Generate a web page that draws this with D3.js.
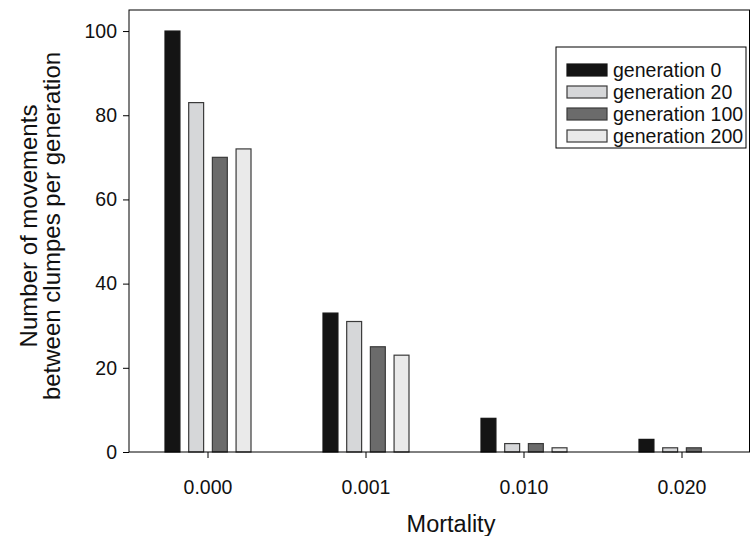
<!DOCTYPE html>
<html>
<head>
<meta charset="utf-8">
<script src="https://cdn.jsdelivr.net/npm/d3@7"></script>
<style>
  body { margin: 0; background: #fff; }
  svg { display: block; font-family: "Liberation Sans", Arial, sans-serif; }
</style>
</head>
<body>
<div id="chart"></div>
<script>
var categories = ["0.000", "0.001", "0.010", "0.020"];
var seriesNames = ["generation 0", "generation 20", "generation 100", "generation 200"];
var gen0 = [100, 33, 8, 3];
var gen20 = [83, 31, 2, 1];
var gen100 = [70, 25, 2, 1];
var gen200 = [72, 23, 1, 0];
var yTicks = [0, 20, 40, 60, 80, 100];

var seriesValues = [gen0, gen20, gen100, gen200];
var fills = ["#141414", "#d6d7d9", "#6b6b6b", "#eaeaea"];
var strokes = ["#141414", "#3a3a3a", "#3a3a3a", "#3a3a3a"];

var width = 751, height = 536;
var margin = { top: 10, right: 1, bottom: 84, left: 129 };
var plotW = width - margin.left - margin.right;
var plotH = height - margin.top - margin.bottom;

var svg = d3.select("#chart").append("svg")
  .attr("width", width)
  .attr("height", height);

var g = svg.append("g")
  .attr("transform", "translate(" + margin.left + "," + margin.top + ")");

// the band scale runs a bit past the right edge, as in the original
var x = d3.scaleBand().domain(categories).range([0, 632]).padding(0);
var inner = d3.scaleBand().domain(d3.range(4)).range([-43, 43]).paddingInner(0.37).paddingOuter(0);
var y = d3.scaleLinear().domain([0, 105]).range([plotH, 0]);

// bars
seriesValues.forEach(function (vals, s) {
  var data = vals.map(function (v, i) { return { cat: categories[i], value: v }; })
    .filter(function (d) { return d.value > 0; });
  g.selectAll(".bar" + s)
    .data(data)
    .enter()
    .append("rect")
    .attr("class", "bar" + s)
    .attr("x", function (d) { return x(d.cat) + x.bandwidth() / 2 + inner(s); })
    .attr("y", function (d) { return y(d.value); })
    .attr("width", inner.bandwidth())
    .attr("height", function (d) { return y(0) - y(d.value); })
    .attr("fill", fills[s])
    .attr("stroke", strokes[s])
    .attr("stroke-width", 1.2);
});

// frame
g.append("rect")
  .attr("x", 0).attr("y", 0)
  .attr("width", plotW - 0.5).attr("height", plotH)
  .attr("fill", "none")
  .attr("stroke", "#000")
  .attr("stroke-width", 1);

// axes
var yAxis = g.append("g")
  .call(d3.axisLeft(y).tickValues(yTicks).tickSize(6).tickPadding(6));
yAxis.select(".domain").remove();
yAxis.selectAll("text").style("font-size", "19.5px").attr("fill", "#111");

var xAxis = g.append("g")
  .attr("transform", "translate(0," + plotH + ")")
  .call(d3.axisBottom(x).tickSize(6).tickPadding(22));
xAxis.select(".domain").remove();
xAxis.selectAll("text").style("font-size", "19.5px").attr("fill", "#111");

// axis titles
svg.append("text")
  .attr("x", 451)
  .attr("y", 532)
  .attr("text-anchor", "middle")
  .style("font-size", "23.5px")
  .attr("fill", "#111")
  .text("Mortality");

var yTitle = svg.append("text")
  .attr("transform", "translate(0,226) rotate(-90)")
  .attr("text-anchor", "middle")
  .style("font-size", "24px")
  .attr("fill", "#111");
yTitle.append("tspan").attr("x", 0).attr("y", 37).text("Number of movements");
yTitle.append("tspan").attr("x", 0).attr("y", 60).text("between clumpes per generation");

// legend
var legend = svg.append("g").attr("transform", "translate(556,47)");
legend.append("rect")
  .attr("width", 190).attr("height", 101)
  .attr("fill", "#fff")
  .attr("stroke", "#000")
  .attr("stroke-width", 1);
seriesNames.forEach(function (name, i) {
  var row = legend.append("g").attr("transform", "translate(0," + (23 + i * 22) + ")");
  row.append("rect")
    .attr("x", 11).attr("y", -6)
    .attr("width", 40).attr("height", 12)
    .attr("fill", fills[i])
    .attr("stroke", strokes[i])
    .attr("stroke-width", 1.2);
  row.append("text")
    .attr("x", 57).attr("y", 7)
    .style("font-size", "19.5px")
    .attr("fill", "#111")
    .text(name);
});
</script>
</body>
</html>
